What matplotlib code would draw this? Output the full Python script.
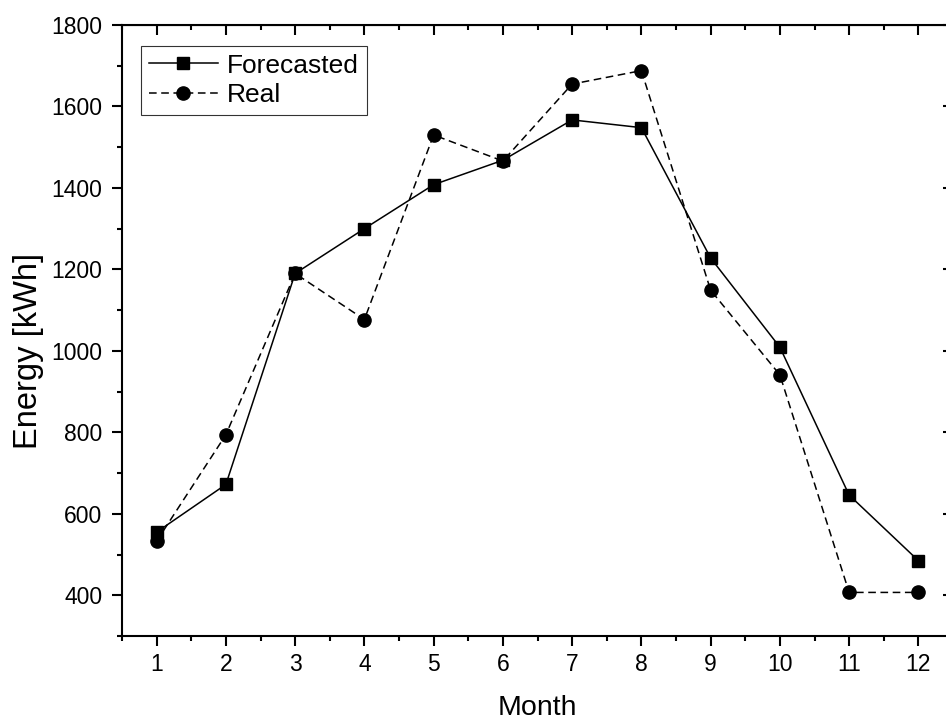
import matplotlib
matplotlib.use("Agg")
import matplotlib.pyplot as plt
from matplotlib.ticker import MultipleLocator

months = [1, 2, 3, 4, 5, 6, 7, 8, 9, 10, 11, 12]
forecasted = [555, 672, 1190, 1300, 1408, 1468, 1567, 1548, 1228, 1009, 646, 485]
real = [533, 794, 1190, 1077, 1530, 1466, 1655, 1688, 1149, 941, 407, 407]

plt.rcParams['font.family'] = ['Liberation Sans', 'DejaVu Sans']

fig = plt.figure(figsize=(9.46, 7.21), dpi=100)
# right spine sits just past the image edge, like the original crop
ax = fig.add_axes([122 / 946, 1 - 636 / 721, 831 / 946, 611 / 721])

ax.plot(months, forecasted, color='black', linewidth=1.1, marker='s',
        markersize=9, label='Forecasted')
ax.plot(months, real, color='black', linewidth=1.1, linestyle=(0, (5, 3)),
        marker='o', markersize=9.5, label='Real')

ax.set_xlim(0.5, 12.5)
ax.set_ylim(300, 1800)
ax.xaxis.set_major_locator(MultipleLocator(1))
ax.xaxis.set_minor_locator(MultipleLocator(0.5))
ax.yaxis.set_major_locator(MultipleLocator(200))
ax.yaxis.set_minor_locator(MultipleLocator(100))

for sp in ax.spines.values():
    sp.set_linewidth(1.5)

ax.tick_params(which='both', width=1.5, labelsize=16.5)
ax.tick_params(which='major', length=7)
ax.tick_params(which='minor', length=3.6)
ax.tick_params(axis='x', which='both', direction='out', pad=5)
ax.tick_params(axis='y', which='both', direction='out', pad=7)

# inward ticks on top and right, no labels
top = ax.secondary_xaxis('top')
top.set_xticks(months)
top.xaxis.set_minor_locator(MultipleLocator(0.5))
top.tick_params(which='both', direction='in', width=1.5, labeltop=False)
top.tick_params(which='major', length=7)
top.tick_params(which='minor', length=3.6)
right = ax.secondary_yaxis('right')
right.yaxis.set_major_locator(MultipleLocator(200))
right.yaxis.set_minor_locator(MultipleLocator(100))
right.tick_params(which='both', direction='in', width=1.5, labelright=False)
right.tick_params(which='major', length=7)
right.tick_params(which='minor', length=3.6)

ax.set_xlabel('Month', fontsize=20.5, labelpad=14)
ax.set_ylabel('Energy [kWh]', fontsize=23.5)
ax.yaxis.set_label_coords(-0.094, 0.466)

leg = ax.legend(loc='upper left', bbox_to_anchor=(0.023, 0.966), borderaxespad=0,
                fontsize=19, fancybox=False, frameon=True, edgecolor='black',
                handlelength=2.6, handletextpad=0.35, borderpad=0.3,
                labelspacing=0.2)
leg.get_frame().set_linewidth(0.8)

plt.savefig('out.png', dpi=100)
